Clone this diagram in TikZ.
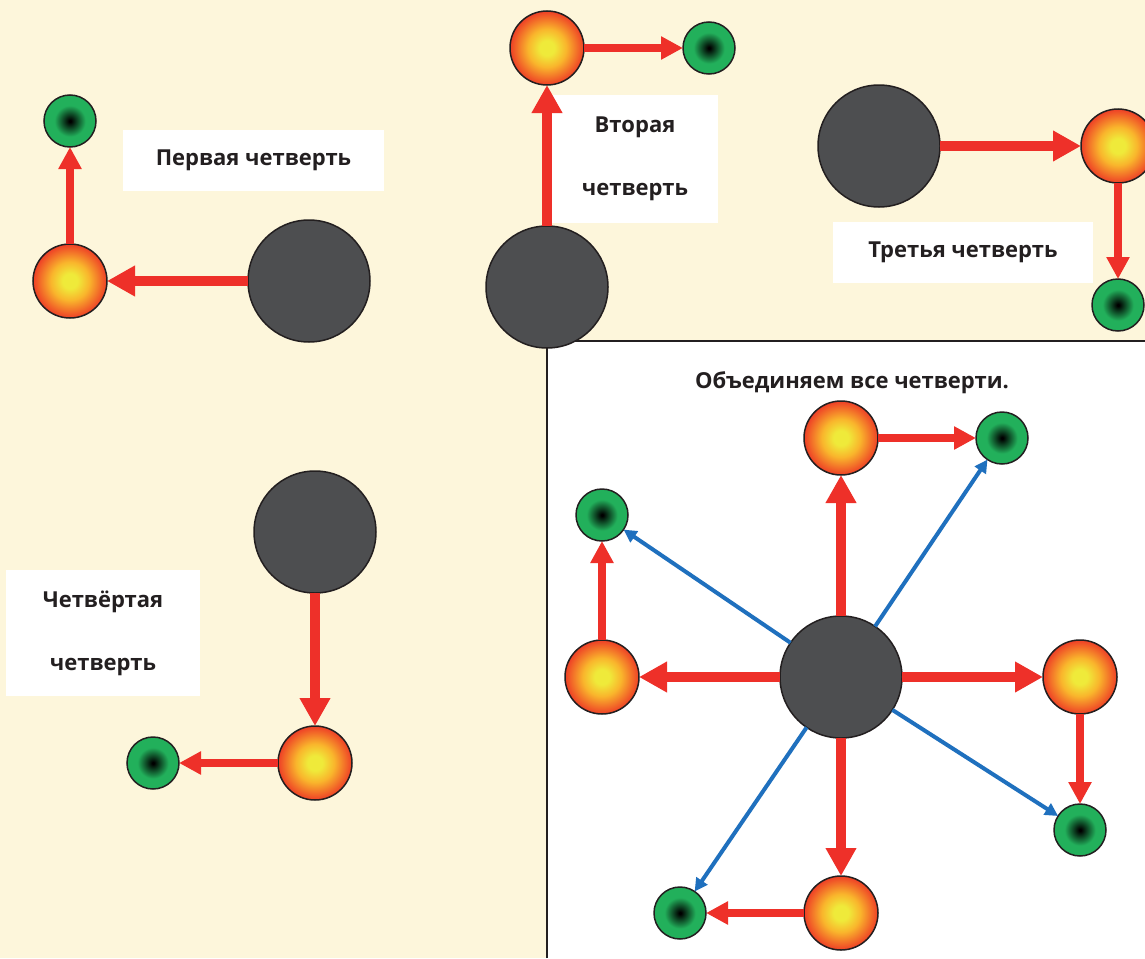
\documentclass[tikz,border=0pt]{standalone}
\usepackage{fontspec}
\setmainfont{Open Sans}
\usetikzlibrary{arrows.meta}
\definecolor{bg}{HTML}{FDF6DB}
\definecolor{darkball}{HTML}{4D4E50}
\definecolor{edge}{HTML}{231F20}
\definecolor{arrred}{HTML}{EE3029}
\definecolor{arrblue}{HTML}{1F70BE}
\definecolor{byellow}{HTML}{EFEA3A}
\definecolor{bamber}{HTML}{F9B52C}
\definecolor{bred}{HTML}{EE3F26}
\definecolor{bgreen}{HTML}{22B05B}
\pgfdeclareradialshading{orangeshade}{\pgfpoint{0bp}{0bp}}{color(0bp)=(byellow); color(5bp)=(byellow); color(13bp)=(bamber); color(25bp)=(bred); color(50bp)=(bred)}
\pgfdeclareradialshading{greenshade}{\pgfpoint{0bp}{0bp}}{color(0bp)=(black); color(1bp)=(black); color(15bp)=(bgreen); color(25bp)=(bgreen); color(50bp)=(bgreen)}
\tikzset{
  bigball/.style={circle, fill=darkball, draw=edge, line width=1.5pt, minimum size=122pt, inner sep=0pt, outer sep=0pt},
  obal/.style={circle, shade, shading=orangeshade, draw=edge, line width=1.5pt, minimum size=74pt, inner sep=0pt, outer sep=0pt},
  gbal/.style={circle, shade, shading=greenshade, draw=edge, line width=1.5pt, minimum size=52pt, inner sep=0pt, outer sep=0pt},
  bigarr/.style={draw=arrred, line width=10pt, -{Triangle[length=28pt,width=29pt]}},
  medarr/.style={draw=arrred, line width=8pt, -{Triangle[length=22pt,width=22pt]}},
  bluearr/.style={draw=arrblue, line width=4pt, -{Triangle[length=13pt,width=13pt]}},
  lbl/.style={fill=white, font=\fontsize{22}{63}\selectfont\bfseries, text=edge, inner sep=0pt, align=center},
}
\begin{document}
\begin{tikzpicture}[x=1pt,y=-1pt]
\useasboundingbox (0,0) rectangle (1145,958);
\clip (0,0) rectangle (1145,958);
\fill[bg] (0,0) rectangle (1145,958);
\fill[white] (547,341) rectangle (1145,958);
\draw[edge, line width=2pt] (547,958) -- (547,341) -- (1145,341);

% Quadrant 1
\node[lbl, minimum width=261pt, minimum height=61pt] (t1) at (253.5,160.5) {Первая четверть};
\node[gbal] (g1) at (70,121) {};
\node[obal] (o1) at (70,281) {};
\node[bigball] (d1) at (309,281) {};
\draw[bigarr] (d1) -- (o1);
\draw[medarr] (o1) -- (g1);

% Quadrant 2
\node[lbl, minimum width=166pt, minimum height=128pt] (t2) at (635,159) {Вторая\\четверть};
\node[bigball] (d2) at (547,287) {};
\node[obal] (o2) at (547,48) {};
\node[gbal] (g2) at (709,48) {};
\draw[bigarr] (d2) -- (o2);
\draw[medarr] (o2) -- (g2);

% Quadrant 3
\node[lbl, minimum width=260pt, minimum height=61pt] (t3) at (963,252.5) {Третья четверть};
\node[bigball] (d3) at (879,146) {};
\node[obal] (o3) at (1118,146) {};
\node[gbal] (g3) at (1118,305) {};
\draw[bigarr] (d3) -- (o3);
\draw[medarr] (o3) -- (g3);

% Quadrant 4
\node[lbl, minimum width=194pt, minimum height=126pt] (t4) at (103,633) {Четвёртая\\четверть};
\node[bigball] (d4) at (315,532) {};
\node[obal] (o4) at (315,763) {};
\node[gbal] (g4) at (153,763) {};
\draw[bigarr] (d4) -- (o4);
\draw[medarr] (o4) -- (g4);

% Combined
\node[font=\fontsize{22}{26}\selectfont\bfseries, text=edge, inner sep=0pt] (title) at (852,383) {Объединяем все четверти.};
\node[bigball] (d5) at (841,677) {};
\node[obal] (ot) at (841,438) {};
\node[gbal] (gtr) at (1002,438) {};
\node[gbal] (gtl) at (602,515) {};
\node[obal] (ol) at (602,677) {};
\node[obal] (or) at (1080,677) {};
\node[gbal] (gr) at (1080,830) {};
\node[obal] (ob) at (841,913) {};
\node[gbal] (gb) at (680,913) {};
\draw[bigarr] (d5) -- (ot);
\draw[bigarr] (d5) -- (ol);
\draw[bigarr] (d5) -- (or);
\draw[bigarr] (d5) -- (ob);
\draw[medarr] (ot) -- (gtr);
\draw[medarr] (ol) -- (gtl);
\draw[medarr] (or) -- (gr);
\draw[medarr] (ob) -- (gb);
\draw[bluearr] (d5) -- (gtr);
\draw[bluearr] (d5) -- (gtl);
\draw[bluearr] (d5) -- (gr);
\draw[bluearr] (d5) -- (gb);
\end{tikzpicture}
\end{document}
